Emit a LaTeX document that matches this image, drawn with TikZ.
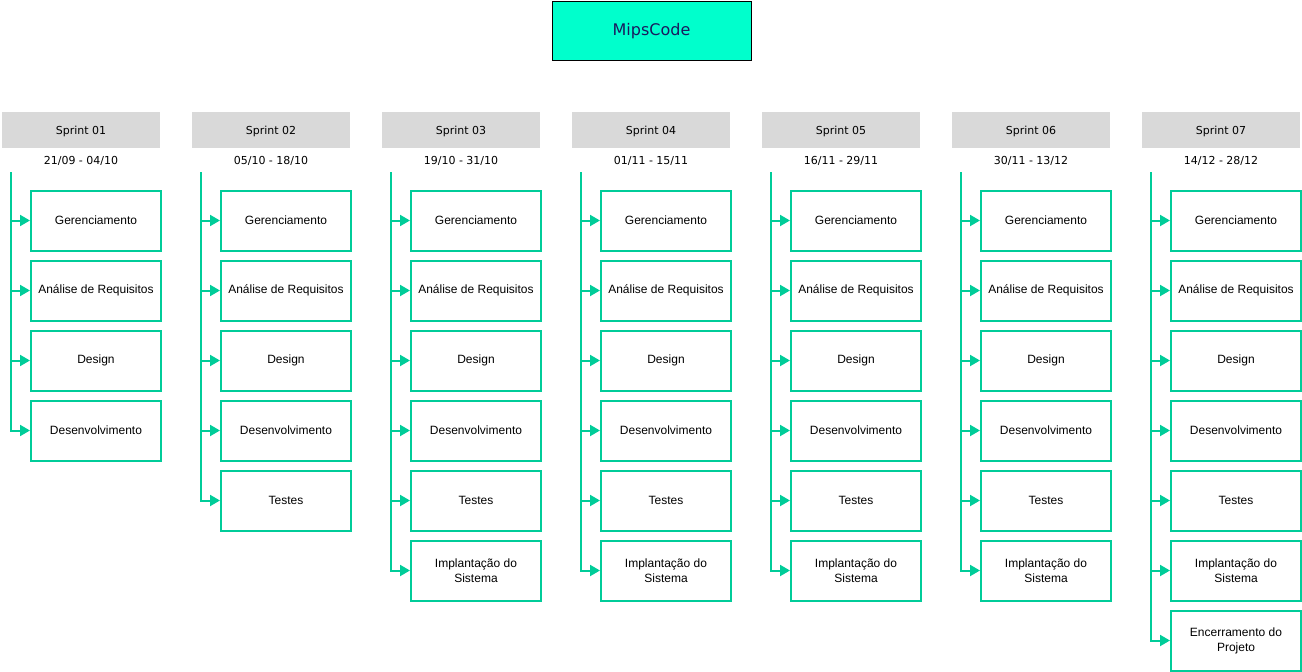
\documentclass[tikz,border=0pt]{standalone}
\usepackage{fontspec}
\setmainfont{Liberation Sans}
\newfontfamily\verd{DejaVu Sans}
\usetikzlibrary{arrows.meta}
\definecolor{tealc}{HTML}{00CC99}
\definecolor{mint}{HTML}{00FFCC}
\definecolor{navyc}{HTML}{1A1A5E}
\definecolor{hdr}{HTML}{D9D9D9}
\begin{document}
\begin{tikzpicture}[x=1pt,y=-1pt,
  titlebox/.style={draw=black,line width=1pt,fill=mint,minimum width=199pt,minimum height=59pt,inner sep=0pt,text=navyc,font=\verd\fontsize{16}{19}\selectfont},
  sprintbox/.style={fill=hdr,minimum width=158pt,minimum height=36pt,inner sep=0pt,font=\verd\fontsize{11}{13}\selectfont},
  datelabel/.style={inner sep=0pt,font=\verd\fontsize{11}{13}\selectfont},
  taskbox/.style={draw=tealc,line width=2pt,fill=white,minimum width=130pt,minimum height=60pt,inner sep=0pt,align=center,font=\fontsize{12}{15}\selectfont},
  conn/.style={draw=tealc,line width=2pt,-{Triangle[length=10pt,width=11pt]}}]
\useasboundingbox (0,0) rectangle (1302,672);
\node[titlebox] (title) at (651.5,31) {MipsCode};
\foreach \cx/\n/\d [count=\j] in {2/4/{21/09 - 04/10},192/5/{05/10 - 18/10},382/6/{19/10 - 31/10},572/6/{01/11 - 15/11},762/6/{16/11 - 29/11},952/6/{30/11 - 13/12},1142/7/{14/12 - 28/12}}{
  \node[sprintbox] (sp\j) at (\cx+79,130) {\raisebox{-4pt}[0pt][0pt]{Sprint 0\j}};
  \node[datelabel] (dt\j) at (\cx+79,160.5) {\d};
  \coordinate (st\j) at (\cx+9,172);
  \foreach \t [count=\k] in {Gerenciamento,Análise de Requisitos,Design,Desenvolvimento,Testes,{Implantação do\\Sistema},{Encerramento do\\Projeto}}{
    \ifnum\k>\n\relax\else
      \node[taskbox] (t\j-\k) at (\cx+94,{220.5+70*(\k-1)}) {\t};
      \draw[conn] (st\j) |- (t\j-\k.west);
    \fi
  }
}
\end{tikzpicture}
\end{document}
